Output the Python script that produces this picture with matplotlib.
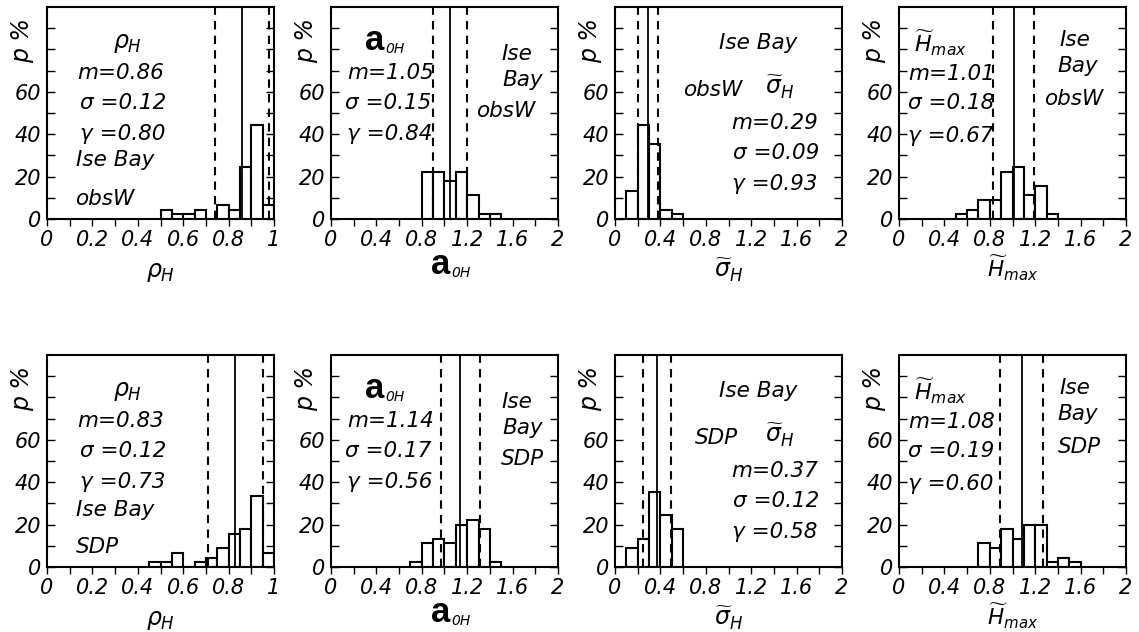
import matplotlib
matplotlib.use('Agg')
import matplotlib.pyplot as plt
import numpy as np

plt.rcParams['font.family'] = ['DejaVu Sans']
plt.rcParams['font.style'] = 'italic'
plt.rcParams['mathtext.fontset'] = 'dejavusans'

# histogram data (percent)
rho_bins = [0.50, 0.55, 0.60, 0.65, 0.70, 0.75, 0.80, 0.85, 0.90, 0.95]
rho_obs = [4.4, 2.2, 2.2, 4.4, 0.0, 6.7, 4.4, 24.4, 44.4, 6.7]
rho_sdp_bins = [0.45, 0.50, 0.55, 0.60, 0.65, 0.70, 0.75, 0.80, 0.85, 0.90, 0.95]
rho_sdp = [2.2, 2.2, 6.7, 0.0, 2.2, 4.4, 8.9, 15.6, 17.8, 33.3, 6.7]

a0h_bins = [0.8, 0.9, 1.0, 1.1, 1.2, 1.3, 1.4]
a0h_obs = [22.2, 22.2, 17.8, 22.2, 11.1, 2.2, 2.2]
a0h_sdp_bins = [0.7, 0.8, 0.9, 1.0, 1.1, 1.2, 1.3, 1.4]
a0h_sdp = [2.2, 11.1, 13.3, 11.1, 20.0, 22.2, 17.8, 2.2]

sig_bins = [0.1, 0.2, 0.3, 0.4, 0.5]
sig_obs = [13.3, 44.4, 35.6, 4.4, 2.2]
sig_sdp = [8.9, 13.3, 35.6, 24.4, 17.8]

hmax_bins = [0.5, 0.6, 0.7, 0.8, 0.9, 1.0, 1.1, 1.2, 1.3]
hmax_obs = [2.2, 4.4, 8.9, 8.9, 22.2, 24.4, 11.1, 15.6, 2.2]
hmax_sdp_bins = [0.7, 0.8, 0.9, 1.0, 1.1, 1.2, 1.3, 1.4, 1.5]
hmax_sdp = [11.1, 8.9, 17.8, 13.3, 20.0, 20.0, 2.2, 4.4, 2.2]

# statistics: mean, std, correlation
stats = {
    'rho_obs': (0.86, 0.12, 0.80), 'a0h_obs': (1.05, 0.15, 0.84),
    'sig_obs': (0.29, 0.09, 0.93), 'hmax_obs': (1.01, 0.18, 0.67),
    'rho_sdp': (0.83, 0.12, 0.73), 'a0h_sdp': (1.14, 0.17, 0.56),
    'sig_sdp': (0.37, 0.12, 0.58), 'hmax_sdp': (1.08, 0.19, 0.60),
}

FS = 15
TFS = 15.5
fig = plt.figure(figsize=(11.39, 6.32), dpi=100)
W, H = 1139, 632
col_x = [47, 331, 615, 899]
row_y = [219, 567]
aw, ah = 227, 212


def make_ax(r, c):
    return fig.add_axes([col_x[c] / W, (H - row_y[r]) / H, aw / W, ah / H])


def a0h_text(ax, x, y, big=25, small=10):
    t = ax.text(x, y, 'a', transform=ax.transAxes, fontsize=big,
                family='Liberation Sans', fontweight='bold', fontstyle='normal',
                ha='left', va='baseline', clip_on=False)
    ax.annotate('0H', xy=(1, 0), xycoords=t, xytext=(0.5, 1),
                textcoords='offset points', fontsize=small, va='bottom',
                ha='left', annotation_clip=False)


def style(ax, xmax, xstep, xlab_step):
    ax.set_xlim(0, xmax)
    ax.set_ylim(0, 100)
    ax.set_yticks(np.arange(0, 100, 10))
    ax.set_yticklabels(['0', '', '20', '', '40', '', '60', '', '', ''])
    ticks = np.arange(0, xmax + 1e-9, xstep)
    ax.set_xticks(ticks)
    labs = []
    for v in ticks:
        if abs(v / xlab_step - round(v / xlab_step)) < 1e-6:
            labs.append('%g' % round(v, 2))
        else:
            labs.append('')
    ax.set_xticklabels(labs)
    ax.tick_params(axis='y', direction='in', length=6, width=1,
                   labelsize=FS, right=True, pad=4)
    ax.tick_params(axis='x', direction='out', length=5, width=1,
                   labelsize=FS, pad=3)
    for s in ax.spines.values():
        s.set_linewidth(1.5)
    ax.text(-0.11, 0.84, 'p %', transform=ax.transAxes, rotation=90,
            fontsize=17, ha='center', va='center')


def hist(ax, bins, vals, w, key):
    ax.bar(bins, vals, width=w, align='edge', facecolor='white',
           edgecolor='black', linewidth=1.5)
    m, s, g = stats[key]
    ax.axvline(m, color='black', lw=1.3)
    ax.axvline(m - s, color='black', lw=1.5, ls=(0, (4, 3)))
    ax.axvline(m + s, color='black', lw=1.5, ls=(0, (4, 3)))
    return m, s, g


def txt(ax, x, y, s, fs=TFS):
    ax.text(x, y, s, transform=ax.transAxes, fontsize=fs,
            ha='left', va='center')


site = ['obsW', 'SDP']
rho_data = [(rho_bins, rho_obs, 'rho_obs'), (rho_sdp_bins, rho_sdp, 'rho_sdp')]
a0h_data = [(a0h_bins, a0h_obs, 'a0h_obs'), (a0h_sdp_bins, a0h_sdp, 'a0h_sdp')]
sig_data = [(sig_bins, sig_obs, 'sig_obs'), (sig_bins, sig_sdp, 'sig_sdp')]
hmax_data = [(hmax_bins, hmax_obs, 'hmax_obs'), (hmax_sdp_bins, hmax_sdp, 'hmax_sdp')]

for r in range(2):
    # rho_H
    ax = make_ax(r, 0)
    style(ax, 1, 0.1, 0.2)
    m, s, g = hist(ax, *rho_data[r][:2], 0.05, rho_data[r][2])
    txt(ax, 0.29, 0.83, r'$\rho_H$', fs=17)
    txt(ax, 0.135, 0.69, 'm=%.2f' % m)
    txt(ax, 0.147, 0.548, 'σ =%.2f' % s)
    txt(ax, 0.144, 0.40, 'γ =%.2f' % g)
    txt(ax, 0.129, 0.28 if r == 0 else 0.268, 'Ise Bay')
    txt(ax, 0.125, 0.094, site[r])
    ax.text(0.5, -0.25, r'$\rho_H$', transform=ax.transAxes,
            fontsize=17, ha='center', va='center')

    # a0H
    ax = make_ax(r, 1)
    style(ax, 2, 0.2, 0.4)
    m, s, g = hist(ax, *a0h_data[r][:2], 0.1, a0h_data[r][2])
    a0h_text(ax, 0.15, 0.795)
    txt(ax, 0.07, 0.69, 'm=%.2f' % m)
    txt(ax, 0.063, 0.548, 'σ =%.2f' % s)
    txt(ax, 0.07, 0.40, 'γ =%.2f' % g)
    txt(ax, 0.75, 0.78, 'Ise')
    txt(ax, 0.755, 0.655, 'Bay')
    txt(ax, 0.64 if r == 0 else 0.75, 0.51, site[r])
    a0h_text(ax, 0.44, -0.26)

    # sigma_H
    ax = make_ax(r, 2)
    style(ax, 2, 0.2, 0.4)
    m, s, g = hist(ax, *sig_data[r][:2], 0.1, sig_data[r][2])
    txt(ax, 0.46, 0.83, 'Ise Bay')
    txt(ax, 0.298 if r == 0 else 0.354, 0.61, site[r])
    txt(ax, 0.66, 0.62, r'$\widetilde{\sigma}_H$', fs=17)
    txt(ax, 0.51, 0.455, 'm=%.2f' % m)
    txt(ax, 0.52, 0.31, 'σ =%.2f' % s)
    txt(ax, 0.516, 0.165, 'γ =%.2f' % g)
    ax.text(0.5, -0.245, r'$\widetilde{\sigma}_H$', transform=ax.transAxes,
            fontsize=17, ha='center', va='center')

    # Hmax
    ax = make_ax(r, 3)
    style(ax, 2, 0.2, 0.4)
    m, s, g = hist(ax, *hmax_data[r][:2], 0.1, hmax_data[r][2])
    txt(ax, 0.066, 0.83, r'$\widetilde{H}_{max}$', fs=16)
    txt(ax, 0.04, 0.685, 'm=%.2f' % m)
    txt(ax, 0.04, 0.546, 'σ =%.2f' % s)
    txt(ax, 0.04, 0.392, 'γ =%.2f' % g)
    txt(ax, 0.705, 0.845, 'Ise')
    txt(ax, 0.70, 0.72, 'Bay')
    txt(ax, 0.64 if r == 0 else 0.70, 0.565, site[r])
    ax.text(0.5, -0.235, r'$\widetilde{H}_{max}$', transform=ax.transAxes,
            fontsize=15.5, ha='center', va='center')

plt.savefig('out.png', dpi=100)
